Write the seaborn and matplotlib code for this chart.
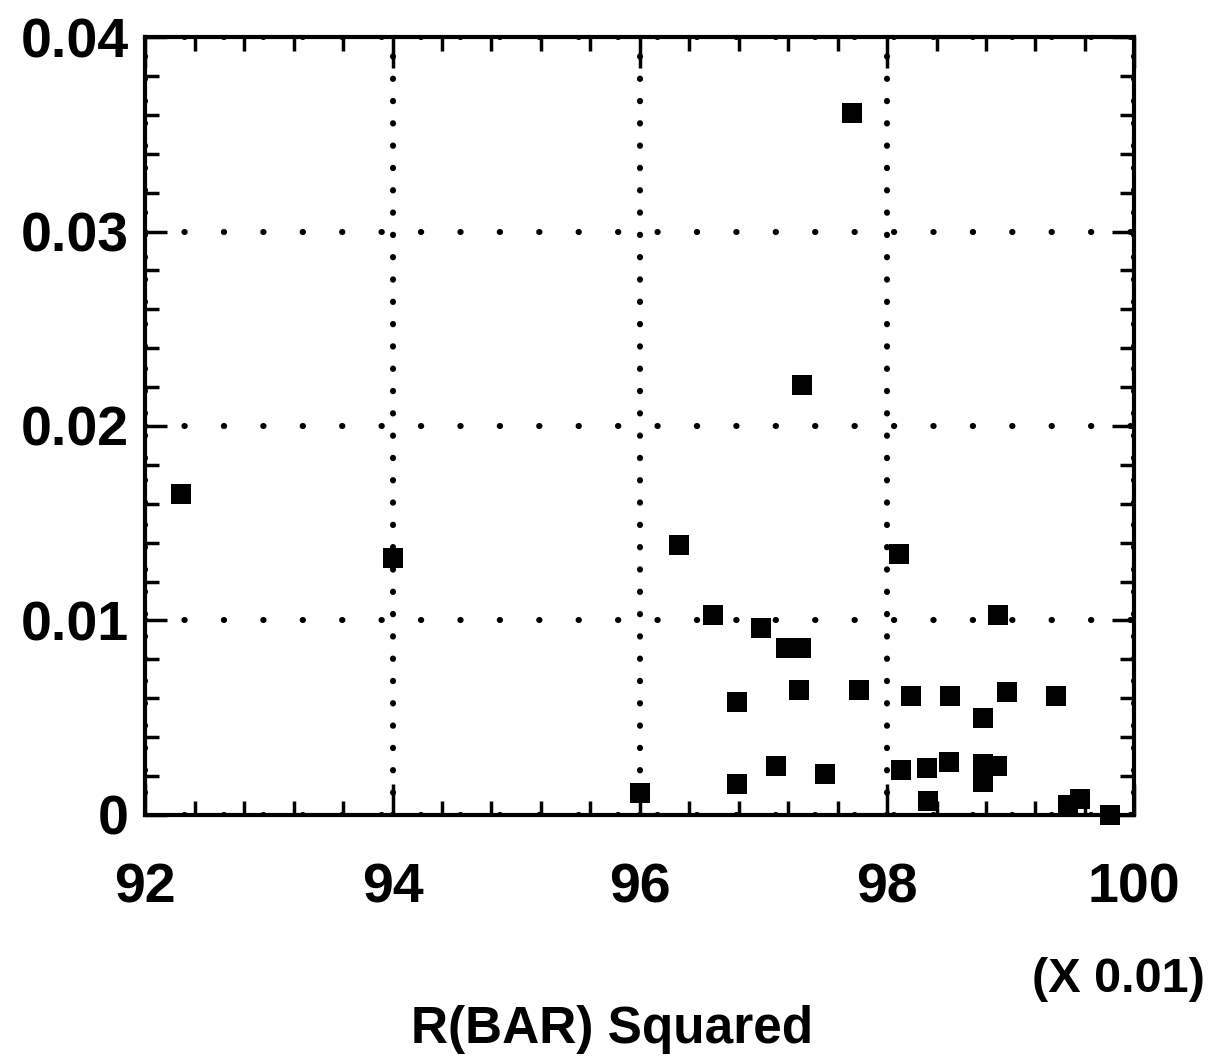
import numpy as np
import pandas as pd
import matplotlib
matplotlib.use("Agg")
import matplotlib.pyplot as plt
from matplotlib.ticker import MultipleLocator, FixedLocator
import seaborn as sns

# R(BAR) squared, in units of 0.01
r_bar_sq = [92.29, 94.00, 96.32, 96.59, 96.98, 97.18, 97.30, 97.29, 97.77, 96.79,
            97.72, 97.31, 98.10, 97.10, 97.50, 96.79, 96.00, 98.19, 98.51, 98.97,
            99.37, 98.78, 98.90, 98.11, 98.32, 98.50, 98.78, 98.89, 98.78, 98.33,
            99.46, 99.56, 99.80]
y_vals = [0.0165, 0.0132, 0.0139, 0.0103, 0.0096, 0.0086, 0.0086, 0.0064, 0.0064, 0.0058,
          0.0361, 0.0221, 0.0134, 0.0025, 0.0021, 0.0016, 0.0011, 0.0061, 0.0061, 0.0063,
          0.0061, 0.0050, 0.0103, 0.0023, 0.0024, 0.0027, 0.0026, 0.0025, 0.0017, 0.0007,
          0.0005, 0.0008, 0.0000]

x_ticks = [92, 94, 96, 98, 100]
y_ticks = [0, 0.01, 0.02, 0.03, 0.04]
y_ticklabels = ["0", "0.01", "0.02", "0.03", "0.04"]
x_label = "R(BAR) Squared"
x_scale_note = "(X 0.01)"

df = pd.DataFrame({"r2": r_bar_sq, "val": y_vals})

sns.set_style("white")
plt.rcParams['font.family'] = ['Liberation Sans', 'DejaVu Sans']
plt.rcParams['font.weight'] = 'bold'

fig = plt.figure(figsize=(12.21, 10.61), dpi=100)
ax = fig.add_axes([0.119, 0.232, 0.81, 0.733])

sns.scatterplot(data=df, x="r2", y="val", marker="s", s=190, color="black",
                linewidth=0, ax=ax, zorder=3, legend=False, clip_on=False)

ax.set_xlim(92, 100)
ax.set_ylim(0, 0.04)

ax.xaxis.set_major_locator(FixedLocator(x_ticks))
ax.xaxis.set_minor_locator(MultipleLocator(0.4))
ax.yaxis.set_major_locator(FixedLocator(y_ticks))
ax.yaxis.set_minor_locator(MultipleLocator(0.002))
ax.set_xticklabels([str(t) for t in x_ticks])
ax.set_yticklabels(y_ticklabels)

ax.tick_params(which="both", direction="in", top=True, right=True, bottom=True, left=True,
               width=2.5, colors="black")
ax.tick_params(axis="x", which="major", length=22, labelsize=40, pad=34)
ax.tick_params(axis="y", which="major", length=16, labelsize=40, pad=12)
ax.tick_params(which="minor", length=10)
for lab in ax.get_xticklabels() + ax.get_yticklabels():
    lab.set_fontweight("bold")

# dotted grid, round dots, different spacing in each direction
ax.xaxis.grid(True, which="major", color="black", linewidth=4.4,
              linestyle=(0, (0.05, 3.6)), dash_capstyle="round")
ax.yaxis.grid(True, which="major", color="black", linewidth=4.4,
              linestyle=(0, (0.05, 6.4)), dash_capstyle="round")
ax.set_axisbelow(True)

for sp in ax.spines.values():
    sp.set_linewidth(3)
    sp.set_color("black")

ax.set_xlabel("")
ax.set_ylabel("")

fig.text(612 / 1221, 1 - 1030 / 1061, x_label, ha="center", va="center",
         fontsize=37, fontweight="bold", color="black")
fig.text(1118 / 1221, 1 - 979 / 1061, x_scale_note, ha="center", va="center",
         fontsize=35, fontweight="bold", color="black")

fig.savefig("out.png", dpi=100, facecolor="white")
